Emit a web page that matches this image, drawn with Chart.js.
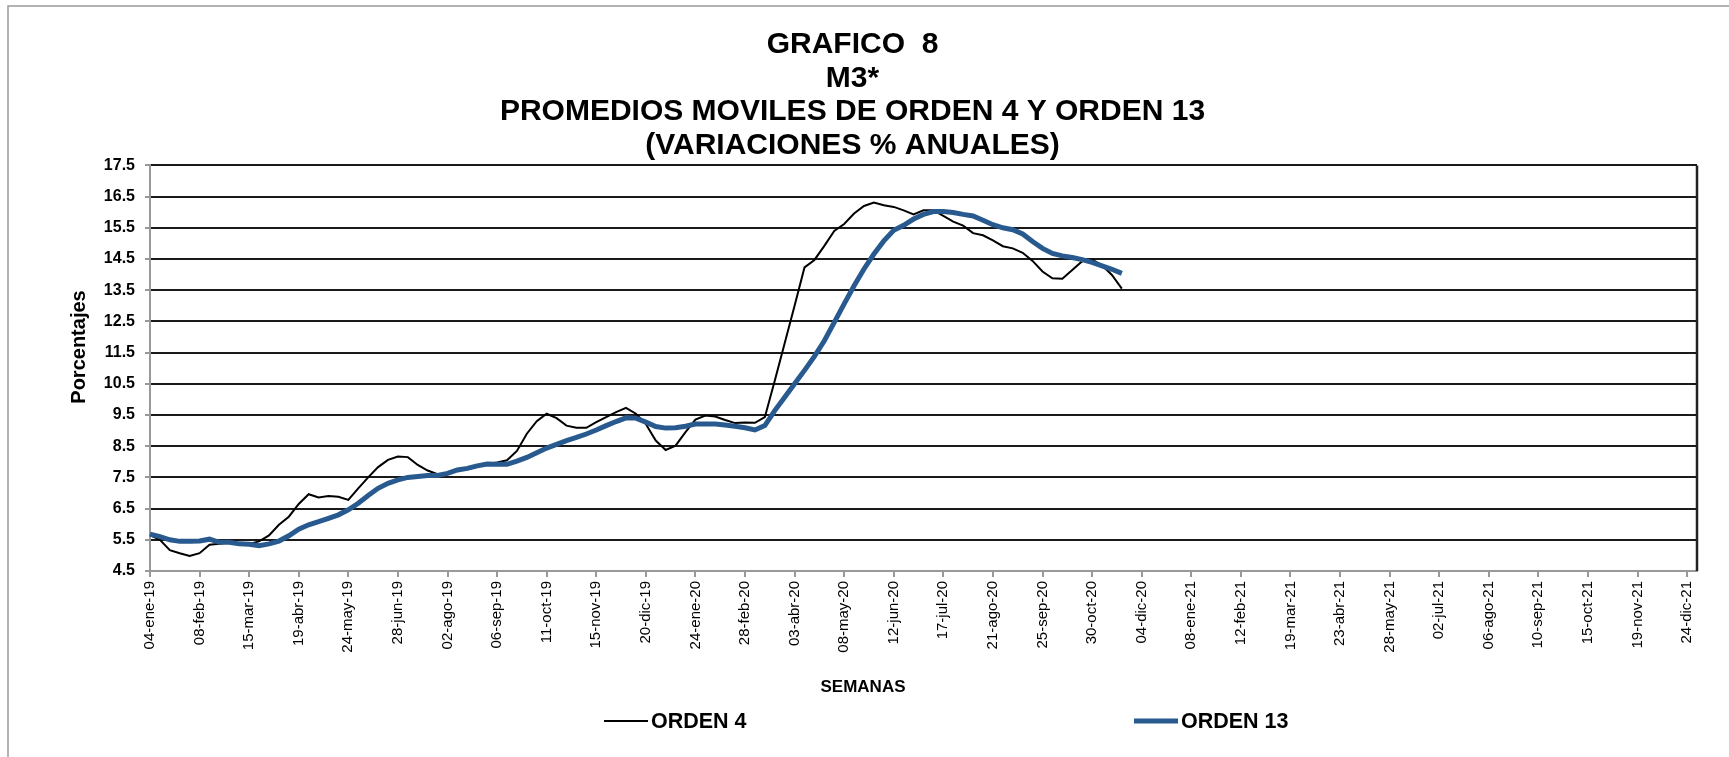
<!DOCTYPE html>
<html>
<head>
<meta charset="utf-8">
<script src="https://cdn.jsdelivr.net/npm/chart.js@4.4.0/dist/chart.umd.min.js"></script>
<style>
  body { margin: 0; background: #fff; }
</style>
</head>
<body>
<canvas id="grafico8" width="1729" height="757"></canvas>
<script>
  // Semanas: viernes desde 04-ene-19 (157 semanas), etiqueta cada 5
  var meses = ['ene', 'feb', 'mar', 'abr', 'may', 'jun', 'jul', 'ago', 'sep', 'oct', 'nov', 'dic'];
  var semanas = [];
  for (var k = 0; k < 157; k++) {
    var d = new Date(Date.UTC(2019, 0, 4 + 7 * k));
    var dd = ('0' + d.getUTCDate()).slice(-2);
    semanas.push(dd + '-' + meses[d.getUTCMonth()] + '-' + String(d.getUTCFullYear()).slice(-2));
  }

  // Promedio movil de orden 4
  var orden4 = [
    5.65, 5.50, 5.17, 5.07, 4.98, 5.07, 5.34, 5.37, 5.41, 5.39,
    5.37, 5.45, 5.64, 5.98, 6.24, 6.65, 6.96, 6.86, 6.90, 6.88,
    6.78, 7.15, 7.50, 7.83, 8.06, 8.17, 8.15, 7.90, 7.72, 7.60,
    7.61, 7.74, 7.76, 7.85, 7.93, 7.98, 8.05, 8.35, 8.90, 9.30,
    9.54, 9.40, 9.16, 9.09, 9.09, 9.27, 9.43, 9.59, 9.73, 9.54,
    9.21, 8.68, 8.38, 8.52, 8.95, 9.35, 9.48, 9.45, 9.34, 9.24,
    9.26, 9.25, 9.43, 10.60, 11.80, 13.00, 14.23, 14.47, 14.92, 15.40,
    15.62, 15.96, 16.20, 16.31, 16.22, 16.17, 16.06, 15.93, 16.06, 16.06,
    15.88, 15.70, 15.57, 15.33, 15.26, 15.10, 14.91, 14.84, 14.70, 14.44,
    14.10, 13.88, 13.87, 14.15, 14.43, 14.48, 14.30, 13.99, 13.55
  ];

  // Promedio movil de orden 13
  var orden13 = [
    5.68, 5.60, 5.50, 5.45, 5.45, 5.46, 5.52, 5.42, 5.42, 5.37,
    5.36, 5.31, 5.37, 5.46, 5.63, 5.84, 5.98, 6.08, 6.19, 6.30,
    6.46, 6.67, 6.92, 7.15, 7.31, 7.42, 7.50, 7.53, 7.56, 7.56,
    7.63, 7.74, 7.79, 7.87, 7.93, 7.92, 7.92, 8.02, 8.14, 8.29,
    8.44, 8.56, 8.68, 8.78, 8.89, 9.02, 9.16, 9.29, 9.41, 9.40,
    9.27, 9.13, 9.08, 9.09, 9.14, 9.21, 9.21, 9.21, 9.18, 9.14,
    9.09, 9.02, 9.16, 9.64, 10.07, 10.50, 10.93, 11.38, 11.88, 12.47,
    13.06, 13.64, 14.18, 14.66, 15.08, 15.42, 15.58, 15.78, 15.93, 16.02,
    16.02, 15.99, 15.93, 15.88, 15.74, 15.60, 15.50, 15.44, 15.30, 15.06,
    14.84, 14.68, 14.60, 14.55, 14.48, 14.39, 14.28, 14.17, 14.04
  ];

  var fuente = "'Liberation Sans', Arial, sans-serif";

  // Marco, borde derecho, titulos de ejes y leyenda
  var extras = {
    id: 'extras',
    afterDraw: function (chart) {
      var c = chart.ctx;
      var a = chart.chartArea;
      c.save();
      c.strokeStyle = '#9a9a9a';
      c.lineWidth = 1.5;
      c.beginPath();
      c.moveTo(8, 757); c.lineTo(8, 6); c.lineTo(1729, 6);
      c.stroke();

      c.strokeStyle = '#222';
      c.lineWidth = 2.5;
      c.beginPath();
      c.moveTo(a.right, a.top); c.lineTo(a.right, a.bottom);
      c.stroke();

      c.fillStyle = '#000';
      c.textBaseline = 'middle';
      c.textAlign = 'center';

      c.save();
      c.translate(79, 347);
      c.rotate(-Math.PI / 2);
      c.font = 'bold 20px ' + fuente;
      c.fillText('Porcentajes', 0, 0);
      c.restore();

      c.font = 'bold 17px ' + fuente;
      c.fillText('SEMANAS', 863, 687);

      var pos = [604, 1134];
      c.textAlign = 'left';
      c.font = 'bold 21.5px ' + fuente;
      chart.data.datasets.forEach(function (ds, i) {
        c.strokeStyle = ds.borderColor;
        c.lineWidth = ds.borderWidth;
        c.beginPath();
        c.moveTo(pos[i], 721); c.lineTo(pos[i] + 44, 721);
        c.stroke();
        c.fillText(ds.label, pos[i] + 47, 722);
      });
      c.restore();
    }
  };

  var ctx = document.getElementById('grafico8').getContext('2d');
  var grafico = new Chart(ctx, {
    type: 'line',
    data: {
      labels: semanas,
      datasets: [{
        label: 'ORDEN 4',
        data: orden4,
        borderColor: '#000000',
        borderWidth: 2,
        pointRadius: 0,
        tension: 0,
        order: 1
      }, {
        label: 'ORDEN 13',
        data: orden13,
        borderColor: '#285A8F',
        borderWidth: 5,
        pointRadius: 0,
        tension: 0,
        order: 0
      }]
    },
    options: {
      responsive: false,
      animation: false,
      layout: { padding: { left: 8, right: 32, top: 0, bottom: 0 } },
      plugins: {
        legend: { display: false },
        tooltip: { enabled: false },
        title: {
          display: true,
          text: ['GRAFICO  8', 'M3*', 'PROMEDIOS MOVILES DE ORDEN 4 Y ORDEN 13', '(VARIACIONES % ANUALES)'],
          color: '#000',
          font: { family: fuente, size: 30, weight: 'bold', lineHeight: 1.12 },
          padding: { top: 28, bottom: 3 }
        }
      },
      scales: {
        x: {
          afterBuildTicks: function (scale) {
            scale.ticks = scale.ticks.filter(function (t) { return t.value % 5 === 0; });
          },
          afterFit: function (scale) { scale.height = 186; },
          ticks: {
            autoSkip: false,
            maxRotation: 90,
            minRotation: 90,
            padding: 4,
            color: '#000',
            font: { family: fuente, size: 15 }
          },
          grid: { drawOnChartArea: false, tickLength: 6, tickColor: '#999', lineWidth: 2 },
          border: { color: '#999', width: 2 }
        },
        y: {
          min: 4.5,
          max: 17.5,
          afterFit: function (scale) { scale.width = 142; },
          ticks: {
            stepSize: 1,
            padding: 10,
            color: '#000',
            font: { family: fuente, size: 16, weight: 'bold' },
            callback: function (v) { return v.toFixed(1); }
          },
          grid: {
            color: function (c) { return c.tick && c.tick.value === 4.5 ? 'rgba(0,0,0,0)' : '#1a1a1a'; },
            lineWidth: 2,
            tickLength: 5,
            tickColor: '#999'
          },
          border: { color: '#999', width: 2 }
        }
      }
    },
    plugins: [extras]
  });
</script>
</body>
</html>
